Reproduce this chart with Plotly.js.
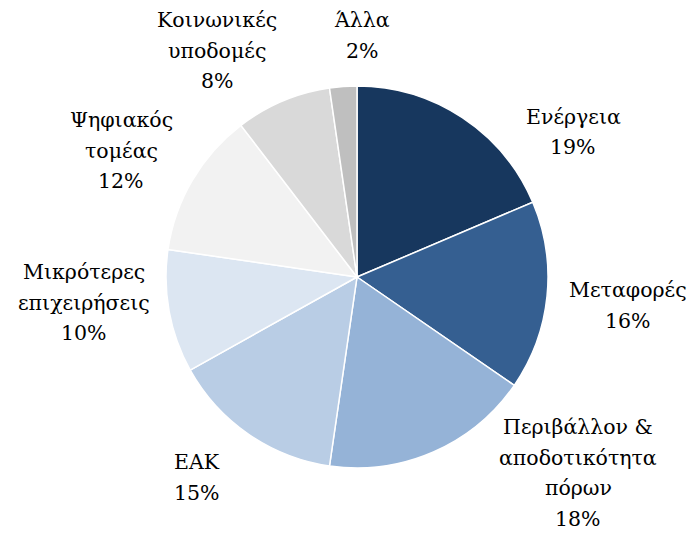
<!DOCTYPE html>
<html>
<head>
<meta charset="utf-8">
<script src="https://cdn.plot.ly/plotly-3.0.1.min.js"></script>
<style>html,body{margin:0;padding:0;background:#fff;}</style>
</head>
<body>
<div id="chart" style="width:695px;height:533px;"></div>
<script>
const categories = ["Ενέργεια", "Μεταφορές", "Περιβάλλον & αποδοτικότητα πόρων", "ΕΑΚ", "Μικρότερες επιχειρήσεις", "Ψηφιακός τομέας", "Κοινωνικές υποδομές", "Άλλα"];
const labelLines = [["Ενέργεια"], ["Μεταφορές"], ["Περιβάλλον &", "αποδοτικότητα", "πόρων"], ["ΕΑΚ"], ["Μικρότερες", "επιχειρήσεις"], ["Ψηφιακός", "τομέας"], ["Κοινωνικές", "υποδομές"], ["Άλλα"]];
const values = [18.6, 16.0, 17.7, 14.6, 10.4, 12.3, 8.1, 2.3];
const colors = ["#17375E", "#355F91", "#95B3D7", "#B9CDE5", "#DCE6F2", "#F2F2F2", "#D9D9D9", "#BFBFBF"];

// label block placement (pixel: x centre, y centre of first line)
const labelAnchor = [[573, 117], [628, 290], [578, 427], [197, 462], [84, 272], [121, 120], [217, 20], [362, 20]];
const W = 695, H = 533, LINE = 30.5;
const FONT = {family: "DejaVu Serif", size: 20.5, color: "#000"};
const total = values.reduce((a, b) => a + b, 0);

const annotations = [];
labelLines.forEach((lines, i) => {
  const all = lines.concat([Math.round(values[i] / total * 100) + "%"]);
  all.forEach((t, k) => {
    annotations.push({
      xref: "paper", yref: "paper",
      x: labelAnchor[i][0] / W,
      y: 1 - (labelAnchor[i][1] + k * LINE) / H,
      xanchor: "center", yanchor: "middle",
      text: t, showarrow: false, font: FONT
    });
  });
});

Plotly.newPlot("chart", [{
  type: "pie",
  labels: categories,
  values: values,
  sort: false,
  direction: "clockwise",
  rotation: 0,
  marker: {colors: colors, line: {color: "#ffffff", width: 1.5}},
  textinfo: "none",
  hoverinfo: "none",
  showlegend: false,
  domain: {x: [166 / W, 548 / W], y: [1 - 468 / H, 1 - 86 / H]}
}], {
  width: W, height: H,
  margin: {l: 0, r: 0, t: 0, b: 0},
  font: FONT,
  paper_bgcolor: "#fff",
  showlegend: false,
  annotations: annotations
}, {displayModeBar: false, staticPlot: true});
</script>
</body>
</html>
